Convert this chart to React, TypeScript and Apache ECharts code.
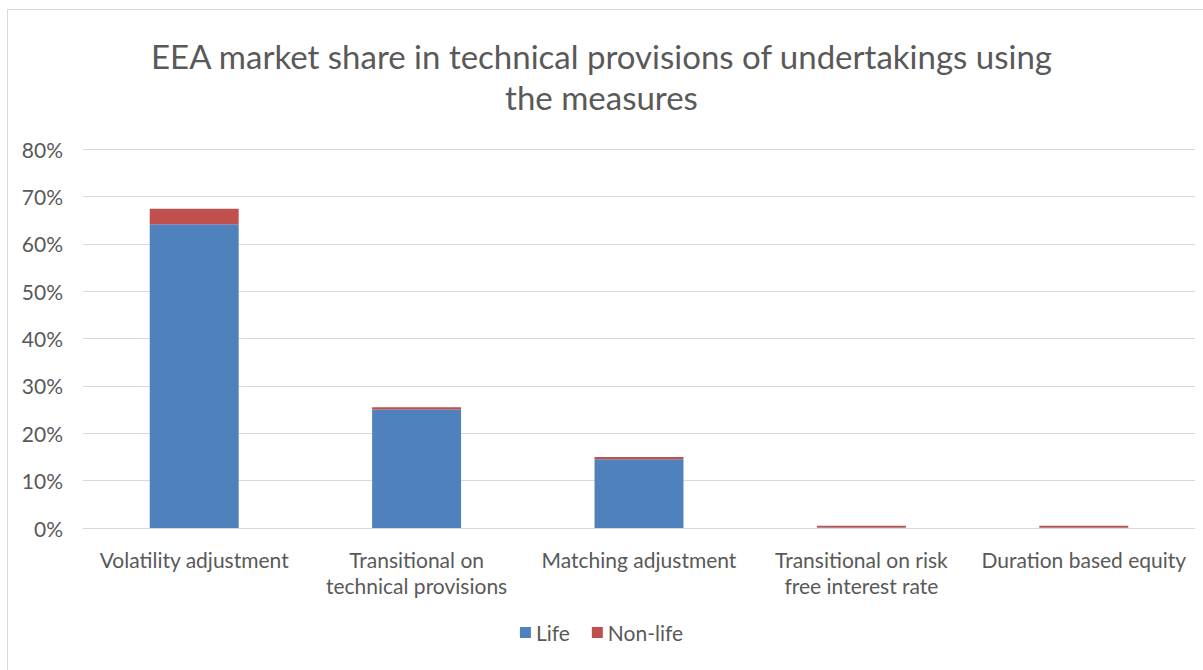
import React, { useEffect, useRef } from "react";
import * as echarts from "echarts";

const categories = [
  "Volatility adjustment",
  "Transitional on\ntechnical provisions",
  "Matching adjustment",
  "Transitional on risk\nfree interest rate",
  "Duration based equity",
];
const lifeValues = [64.1, 25.0, 14.5, 0.1, 0.1];
const nonLifeValues = [3.3, 0.5, 0.5, 0.4, 0.4];
const yTicks = [0, 10, 20, 30, 40, 50, 60, 70, 80];

const FONT = "Lato, 'Open Sans', sans-serif";
const TXT = "#595959";

export default function App() {
  const ref = useRef<HTMLDivElement>(null);
  useEffect(() => {
    if (!ref.current) return;
    const chart = echarts.init(ref.current, undefined, { renderer: "svg" });
    chart.setOption({
      animation: false,
      backgroundColor: "#ffffff",
      title: {
        text: "EEA market share in technical provisions of undertakings using\nthe measures",
        left: "center",
        top: 30,
        textStyle: {
          fontFamily: FONT,
          fontSize: 33,
          fontWeight: "normal",
          color: TXT,
          lineHeight: 41,
        },
      },
      graphic: [
        {
          type: "rect",
          shape: { x: 7.5, y: 9.5, width: 1200, height: 700 },
          style: { fill: "none", stroke: "#d9d9d9", lineWidth: 1 },
          silent: true,
        },
      ],
      legend: {
        bottom: 22,
        left: "center",
        itemWidth: 11,
        itemHeight: 11,
        itemGap: 22,
        icon: "rect",
        textStyle: { fontFamily: FONT, fontSize: 21, color: TXT },
        data: ["Life", "Non-life"],
      },
      grid: { left: 83, right: 8, top: 149, bottom: 142 },
      xAxis: {
        type: "category",
        data: categories,
        axisLine: { lineStyle: { color: "#d9d9d9" } },
        axisTick: { show: false },
        axisLabel: {
          fontFamily: FONT,
          fontSize: 21,
          color: TXT,
          margin: 18,
          lineHeight: 26,
          interval: 0,
        },
      },
      yAxis: {
        type: "value",
        min: yTicks[0],
        max: yTicks[yTicks.length - 1],
        interval: 10,
        axisLine: { show: false },
        axisTick: { show: false },
        splitLine: { lineStyle: { color: "#d9d9d9" } },
        axisLabel: {
          fontFamily: FONT,
          fontSize: 21,
          color: TXT,
          margin: 20,
          formatter: (v: number) => v + "%",
        },
      },
      series: [
        {
          name: "Life",
          type: "bar",
          stack: "total",
          data: lifeValues,
          barWidth: "40%",
          itemStyle: { color: "#4F81BD" },
        },
        {
          name: "Non-life",
          type: "bar",
          stack: "total",
          data: nonLifeValues,
          barWidth: "40%",
          itemStyle: { color: "#C0504D" },
        },
      ],
    });
    return () => chart.dispose();
  }, []);
  return (
    <div
      ref={ref}
      style={{ position: "fixed", left: 0, top: 0, width: 1203, height: 670 }}
    />
  );
}
